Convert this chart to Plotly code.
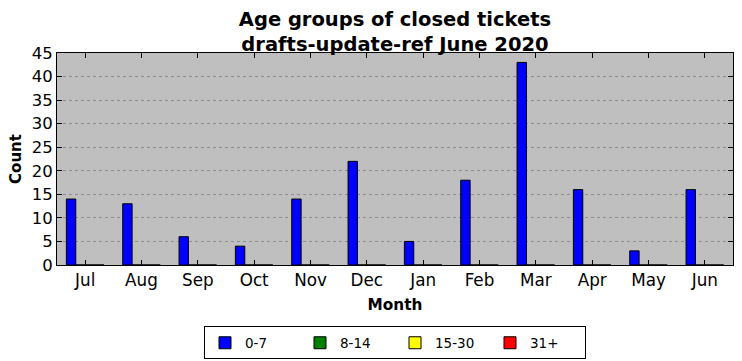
import plotly.graph_objects as go

months = ["Jul", "Aug", "Sep", "Oct", "Nov", "Dec", "Jan", "Feb", "Mar", "Apr", "May", "Jun"]
age_0_7 = [14, 13, 6, 4, 14, 22, 5, 18, 43, 16, 3, 16]
age_8_14 = [0] * 12
age_15_30 = [0] * 12
age_31_plus = [0] * 12

series = [
    ("0-7", age_0_7, "#0000ff"),
    ("8-14", age_8_14, "#008000"),
    ("15-30", age_15_30, "#ffff00"),
    ("31+", age_31_plus, "#ff0000"),
]

font = "DejaVu Sans"
fig = go.Figure()
for name, vals, col in series:
    fig.add_trace(go.Bar(
        x=months, y=vals, name=name,
        marker=dict(color=col, line=dict(color="black", width=1)),
    ))

fig.update_layout(
    width=742, height=361,
    margin=dict(l=57, r=9, t=53, b=96, autoexpand=False),
    paper_bgcolor="white",
    plot_bgcolor="#bfbfbf",
    barmode="group", bargap=1/3, bargroupgap=0,
    font=dict(family=font, size=16, color="black"),
    title=dict(
        text="<b>Age groups of closed tickets</b><br><b>drafts-update-ref June 2020</b>",
        x=395/742, xanchor="center", yref="container", y=1 - 26/361, yanchor="middle",
        font=dict(family=font, size=19.5, color="black"),
    ),
    showlegend=True,
    legend=dict(
        orientation="h", x=0.5, xanchor="center", y=-0.29, yanchor="top",
        bordercolor="black", borderwidth=1, bgcolor="white",
        font=dict(family=font, size=13.5), traceorder="normal",
        entrywidth=50, entrywidthmode="pixels",
    ),
)
fig.update_xaxes(
    type="category", range=[-0.5, 11.5], automargin=False,
    showline=True, linecolor="black", linewidth=1, mirror="ticks",
    ticks="inside", ticklen=5, tickcolor="black", showgrid=False,
    title=dict(text="<b>Month</b>", font=dict(family=font, size=15.3), standoff=10),
    tickfont=dict(size=16.8),
)
fig.update_yaxes(
    range=[0, 45], dtick=5, automargin=False,
    showline=True, linecolor="black", linewidth=1, mirror="ticks",
    ticks="inside", ticklen=5, tickcolor="black",
    showgrid=True, gridcolor="#8c8c8c", griddash="dot", gridwidth=1,
    zeroline=False,
    title=dict(text="<b>Count</b>", font=dict(family=font, size=15), standoff=6),
    tickfont=dict(size=16.5),
)

fig.write_html(
    "out.html",
    config={"displayModeBar": False},
    post_script="document.body.style.margin='0';document.body.style.overflow='hidden';",
)
